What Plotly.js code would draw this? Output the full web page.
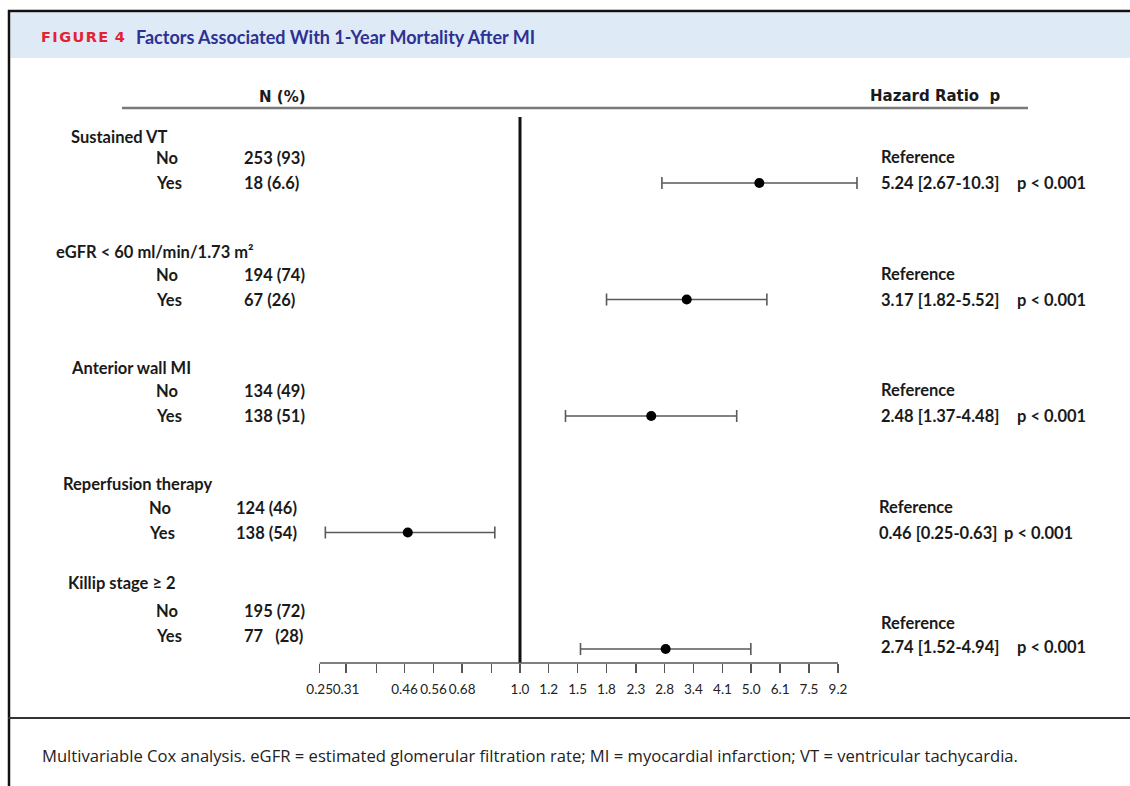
<!DOCTYPE html>
<html>
<head>
<meta charset="utf-8">
<script src="https://cdn.plot.ly/plotly-3.0.1.min.js"></script>
<style>html,body{margin:0;padding:0;background:#fff;}#chart{width:1130px;height:786px;}</style>
</head>
<body>
<div id="chart"></div>
<script>
// ---- data ----
const groups = ["Sustained VT", "eGFR < 60 ml/min/1.73 m²", "Anterior wall MI", "Reperfusion therapy", "Killip stage ≥ 2"];
const nNo = ["253 (93)", "194 (74)", "134 (49)", "124 (46)", "195 (72)"];
const nYes = ["18 (6.6)", "67 (26)", "138 (51)", "138 (54)", "77\u00a0\u00a0\u00a0(28)"];
const hazardRatio = [5.24, 3.17, 2.48, 0.46, 2.74];
const ciLower = [2.67, 1.82, 1.37, 0.26, 1.52];      // as drawn
const ciUpper = [10.3, 5.52, 4.48, 0.84, 4.94];      // as drawn
const hrText = ["5.24 [2.67-10.3]", "3.17 [1.82-5.52]", "2.48 [1.37-4.48]", "0.46 [0.25-0.63]", "2.74 [1.52-4.94]"];
const pText = ["p < 0.001", "p < 0.001", "p < 0.001", "p < 0.001", "p < 0.001"];
const tickVals = [0.25, 0.30, 0.37, 0.45, 0.55, 0.67, 0.82, 1.0, 1.22, 1.49, 1.82, 2.23, 2.72, 3.32, 4.06, 4.95, 6.05, 7.39, 9.03];
const tickText = ["0.25", "0.31", "", "0.46", "0.56", "0.68", "", "1.0", "1.2", "1.5", "1.8", "2.3", "2.8", "3.4", "4.1", "5.0", "6.1", "7.5", "9.2"];
const refValue = 1.0;

// ---- layout helpers ----
const W = 1130, H = 786;
const px = x => x / W;
const py = y => 1 - y / H;
const FONT = "Lato, 'Open Sans', sans-serif";
const HFONT = "'DejaVu Sans', Verdana, sans-serif";
const txt = '#1a1a1a';

const rowIdx = groups.map((g, i) => i);

const titleX = [69, 54, 69, 61, 66];
const noYesX = [154, 154, 154, 147, 154];
const nX = [242, 242, 242, 234, 242];
const refX = [879, 879, 879, 877, 879];
const pX = [1015, 1015, 1015, 1002, 1015];
const titleShift = [46, 48, 48, 49, 66];
const leftShift = [0, 0, 0, 0, 13];
const rightShift = [0, 0, 0, 0, 2];

const annotations = [];
function addAnn(o) {
  annotations.push(Object.assign({showarrow: false, xanchor: 'left', yanchor: 'middle',
    font: {family: FONT, size: 16.5, color: txt, weight: 'bold'}}, o));
}
rowIdx.forEach(i => {
  addAnn({text: groups[i], xref: 'paper', x: px(titleX[i]), yref: 'y', y: i, yshift: titleShift[i]});
  addAnn({text: 'No', xref: 'paper', x: px(noYesX[i]), yref: 'y', y: i, yshift: 25 + leftShift[i]});
  addAnn({text: 'Yes', xref: 'paper', x: px(noYesX[i]), yref: 'y', y: i, yshift: 0 + leftShift[i]});
  addAnn({text: nNo[i], xref: 'paper', x: px(nX[i]), yref: 'y', y: i, yshift: 25 + leftShift[i]});
  addAnn({text: nYes[i], xref: 'paper', x: px(nX[i]), yref: 'y', y: i, yshift: 0 + leftShift[i]});
  addAnn({text: 'Reference', xref: 'paper', x: px(refX[i]), yref: 'y', y: i, yshift: 26});
  addAnn({text: hrText[i], xref: 'paper', x: px(refX[i]), yref: 'y', y: i, yshift: rightShift[i]});
  addAnn({text: pText[i], xref: 'paper', x: px(pX[i]), yref: 'y', y: i, yshift: rightShift[i]});
});
// column headers
addAnn({text: 'N (%)', xref: 'paper', yref: 'paper', x: px(282), y: py(97), xanchor: 'center', font: {family: HFONT, size: 15, color: txt, weight: 'bold'}});
addAnn({text: 'Hazard Ratio\u00a0\u00a0p', xref: 'paper', yref: 'paper', x: px(868), y: py(96), font: {family: HFONT, size: 15, color: txt, weight: 'bold'}});
// header
addAnn({text: 'F\u200AI\u200AG\u200AU\u200AR\u200AE\u00a0\u200A4', xref: 'paper', yref: 'paper', x: px(39), y: py(37), font: {family: HFONT, size: 14.5, color: '#e3232f', weight: 'bold'}});
addAnn({text: 'Factors Associated With 1-Year Mortality After MI', xref: 'paper', yref: 'paper', x: px(134), y: py(37), font: {family: FONT, size: 18, color: '#2e3192', weight: 'bold'}});
// caption
addAnn({text: 'Multivariable Cox analysis. eGFR = estimated glomerular filtration rate; MI = myocardial infarction; VT = ventricular tachycardia.',
  xref: 'paper', yref: 'paper', x: px(40), y: py(755), font: {family: "'Open Sans', sans-serif", size: 16.6, color: '#222', weight: 'normal'}});

const shapes = [
  // outer frame
  {type: 'line', xref: 'paper', yref: 'paper', x0: px(8), x1: 1, y0: py(11), y1: py(11), line: {color: '#111', width: 2.5}},
  {type: 'line', xref: 'paper', yref: 'paper', x0: px(9), x1: px(9), y0: py(10), y1: 0, line: {color: '#111', width: 2.5}},
  {type: 'rect', xref: 'paper', yref: 'paper', x0: px(10.5), x1: 1, y0: py(58), y1: py(12.5), fillcolor: '#deeaf6', line: {width: 0}, layer: 'below'},
  {type: 'line', xref: 'paper', yref: 'paper', x0: px(8), x1: 1, y0: py(718), y1: py(718), line: {color: '#333', width: 2}},
  // header rule
  {type: 'line', xref: 'paper', yref: 'paper', x0: px(122), x1: px(1028), y0: py(108), y1: py(108), line: {color: '#7a7a7a', width: 2.5}},
  // reference line at HR = 1
  {type: 'line', xref: 'x', yref: 'y domain', x0: refValue, x1: refValue, y0: 0, y1: 1, line: {color: '#111', width: 3}},
  // axis line spanning tick range
  {type: 'line', xref: 'x', yref: 'y domain', x0: tickVals[0], x1: tickVals[tickVals.length - 1], y0: 0, y1: 0, line: {color: '#555', width: 1.5}}
];

const trace = {
  type: 'scatter', mode: 'markers',
  x: hazardRatio, y: rowIdx,
  marker: {color: '#000', size: 10},
  error_x: {type: 'data', symmetric: false,
    array: hazardRatio.map((v, i) => ciUpper[i] - v),
    arrayminus: hazardRatio.map((v, i) => v - ciLower[i]),
    color: '#5a5a5a', thickness: 1.6, width: 6},
  hoverinfo: 'skip', showlegend: false
};

// log-axis mapping: 1.0 at px 520, 28.9 px per tick step (e^0.2)
const pxPerDec = 28.9 / (0.2 / Math.LN10);
const d0 = 290, d1 = 880;
const layout = {
  width: W, height: H,
  margin: {l: 0, r: 0, t: 0, b: 0},
  paper_bgcolor: '#fff', plot_bgcolor: 'rgba(0,0,0,0)',
  showlegend: false,
  xaxis: {
    type: 'log', domain: [px(d0), px(d1)],
    range: [(d0 - 520) / pxPerDec, (d1 - 520) / pxPerDec],
    tickmode: 'array', tickvals: tickVals, ticktext: tickText,
    tickangle: 0,
    ticks: 'outside', ticklen: 9, tickwidth: 1.5, tickcolor: '#555',
    showline: false, showgrid: false, zeroline: false,
    ticklabelstandoff: 5,
    tickfont: {family: FONT, size: 13.5, color: '#222'},
    fixedrange: true
  },
  yaxis: {
    domain: [py(663), py(117)],
    range: [(663 - 183) / 116.5, (117 - 183) / 116.5],
    visible: false, showgrid: false, zeroline: false, fixedrange: true
  },
  shapes: shapes,
  annotations: annotations
};

Plotly.newPlot('chart', [trace], layout, {displayModeBar: false, staticPlot: true});
</script>
</body>
</html>
